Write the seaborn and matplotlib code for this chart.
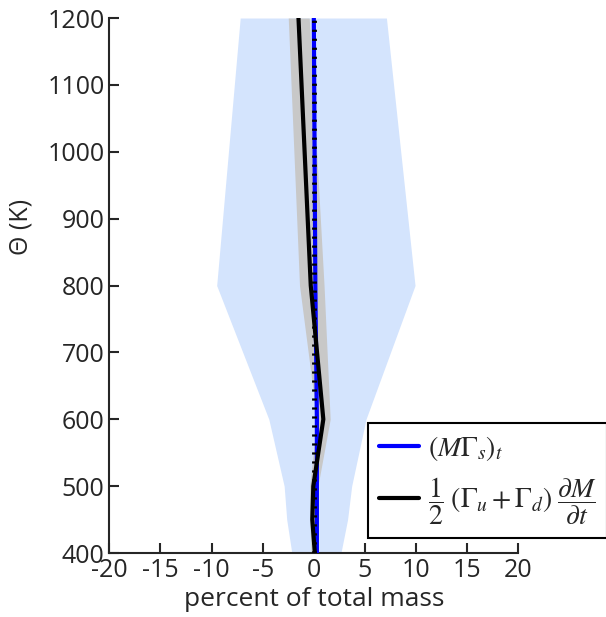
import matplotlib
matplotlib.use('Agg')
import matplotlib.pyplot as plt
import seaborn as sns
import pandas as pd

# potential temperature levels (K)
theta = [400, 450, 500, 600, 800, 1200]

# light blue spread
spread_lo = [-2.15, -2.65, -2.9, -4.4, -9.5, -7.2]
spread_hi = [2.65, 3.3, 3.7, 5.1, 9.9, 7.1]

# (M Gamma_s)_t
blue_line = [0.3, 0.3, 0.3, 0.3, 0.15, 0.0]

# 1/2 (Gamma_u + Gamma_d) dM/dt and its gray band
black_line = [0.1, -0.15, -0.05, 0.93, -0.3, -1.5]
gray_lo = [-0.25, -0.4, -0.4, 0.3, -1.4, -2.5]
gray_hi = [0.4, 0.2, 0.4, 1.6, 1.0, -0.45]

df = pd.DataFrame({'theta': theta, 'blue': blue_line, 'black': black_line})

sns.set_style('ticks')
plt.rcParams['font.family'] = ['Open Sans', 'DejaVu Sans']
plt.rcParams['mathtext.fontset'] = 'stix'
plt.rcParams['axes.unicode_minus'] = False

fig = plt.figure(figsize=(6.06, 6.17), dpi=100)
ax = fig.add_axes([0.1804, 0.1037, 0.6749, 0.8671])

ax.fill_betweenx(theta, spread_lo, spread_hi, color='#d4e4fd', lw=0, zorder=1)
ax.fill_betweenx(theta, gray_lo, gray_hi, color='#c8c8c8', lw=0, zorder=2)

sns.lineplot(data=df, x='blue', y='theta', orient='y', sort=False, color='#0000ff',
             lw=3, ax=ax, zorder=3, label=r'$(M\Gamma_s)_t$')
ax.axvline(0, color='black', lw=3.5, dashes=(0.45, 1.4), zorder=4)
sns.lineplot(data=df, x='black', y='theta', orient='y', sort=False, color='black',
             lw=3, ax=ax, zorder=5,
             label=r'$\dfrac{1}{2}\;(\Gamma_u+\Gamma_d)\;\dfrac{\partial M}{\partial t}$')

ax.set_xlim(-20, 20)
ax.set_ylim(400, 1200)
ax.set_xticks(range(-20, 21, 5))
ax.set_yticks(range(400, 1201, 100))
ax.tick_params(direction='in', length=7, width=1.5, labelsize=18, pad=3.5)
sns.despine(ax=ax)
for s in ['left', 'bottom']:
    ax.spines[s].set_linewidth(1.5)

ax.set_xlabel('percent of total mass', fontsize=19, labelpad=3)
ax.set_ylabel('Θ (K)', fontsize=18)
ax.yaxis.set_label_coords(-0.186, 0.61)

ax.legend_.remove()
h, l = ax.get_legend_handles_labels()
leg = fig.legend(h, l, loc='upper left', bbox_to_anchor=(368 / 606, 1 - 423 / 617),
                 fontsize=20, frameon=True, fancybox=False, framealpha=1,
                 edgecolor='black', handlelength=1.45, borderpad=0.4,
                 labelspacing=0.45, handletextpad=0.3, borderaxespad=0)
leg.get_frame().set_linewidth(1.5)

fig.savefig('out.png', dpi=100)
